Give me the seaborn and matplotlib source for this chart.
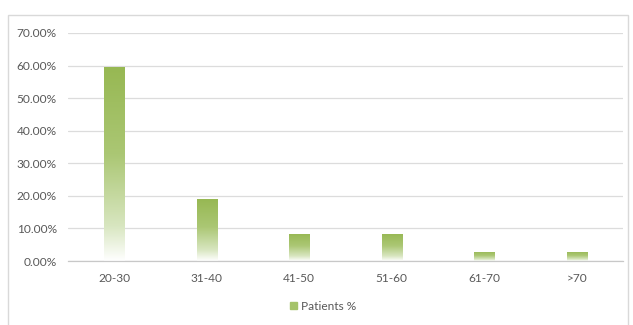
import numpy as np
import pandas as pd
import matplotlib
matplotlib.use("Agg")
import matplotlib.pyplot as plt
import matplotlib.patches as mpatches
from matplotlib.ticker import FuncFormatter, MultipleLocator
from matplotlib.colors import LinearSegmentedColormap
import seaborn as sns

age_groups = ["20-30", "31-40", "41-50", "51-60", "61-70", ">70"]
patients_pct = [59.5, 19.0, 8.3, 8.3, 2.8, 2.8]
series_name = "Patients %"

sns.set_style("white")
plt.rcParams["font.family"] = ["Lato", "DejaVu Sans"]

df = pd.DataFrame({"age": age_groups, "pct": np.array(patients_pct) / 100.0})

fig = plt.figure(figsize=(6.33, 3.25), dpi=100)
fig.patch.set_facecolor("white")

# outer chart frame
frame = mpatches.Rectangle((8 / 633, -0.05), 620 / 633, 1 - 15 / 325 + 0.05,
                           transform=fig.transFigure, fill=False,
                           edgecolor="#d9d9d9", linewidth=1.0)
fig.patches.append(frame)

ax = fig.add_axes([68 / 633, 1 - 261 / 325, 555 / 633, 228 / 325])
sns.barplot(data=df, x="age", y="pct", ax=ax, color="#9bbb59", width=0.22,
            saturation=1)

ax.set_ylim(0, 0.70)
ax.yaxis.set_major_locator(MultipleLocator(0.10))
ax.yaxis.set_major_formatter(FuncFormatter(lambda v, _: f"{v * 100:.2f}%"))
ax.grid(axis="y", color="#dcdcdc", linewidth=0.9)
ax.set_axisbelow(True)
for s in ["top", "right", "left"]:
    ax.spines[s].set_visible(False)
ax.spines["bottom"].set_color("#c8c8c8")
ax.spines["bottom"].set_linewidth(0.9)
ax.tick_params(axis="both", length=0, labelsize=8.6, labelcolor="#595959")
ax.tick_params(axis="y", pad=8)
ax.tick_params(axis="x", pad=9)
ax.set_xlabel("")
ax.set_ylabel("")

# vertical fade: full green at the top of each bar to white at its base
cmap = LinearSegmentedColormap.from_list(
    "fade", [(0.0, "#ffffff"), (0.18, "#d8e6c0"), (0.55, "#abc774"), (1.0, "#97b853")])
grad = np.linspace(0, 1, 256).reshape(-1, 1)
for patch in list(ax.patches):
    x0, y0 = patch.get_x(), patch.get_y()
    w, h = patch.get_width(), patch.get_height()
    patch.set_facecolor("none")
    patch.set_edgecolor("none")
    im = ax.imshow(grad, cmap=cmap, origin="lower", aspect="auto",
                   extent=[x0, x0 + w, y0, y0 + h], zorder=2)
    im.set_clip_path(patch)
ax.set_xlim(-0.5, len(age_groups) - 0.5)
ax.set_ylim(0, 0.70)

handle = mpatches.Patch(color="#a5c36a", label=series_name)
fig.legend(handles=[handle], loc="center", bbox_to_anchor=(323 / 633, 1 - 306 / 325),
           frameon=False, fontsize=8.6, labelcolor="#595959", handlelength=0.55,
           handleheight=0.55, handletextpad=0.35)

fig.savefig("out.png", dpi=100, facecolor="white")
